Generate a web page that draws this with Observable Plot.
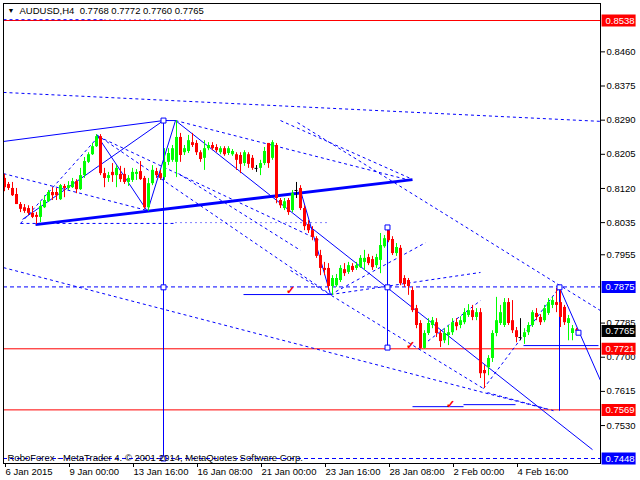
<!DOCTYPE html>
<html><head><meta charset="utf-8">
<script src="https://cdn.jsdelivr.net/npm/d3@7"></script>
<script src="https://cdn.jsdelivr.net/npm/@observablehq/plot@0.6"></script>
<style>
html,body{margin:0;padding:0;background:#fff;}
#chart svg{display:block;}
</style></head><body><div id="chart"></div>
<script>
// ---- Candle data (AUDUSD H4), bar index 0 = 6 Jan 2015 08:00 ----
const opens = [
.8145,.8130,.8120,.8105,.8080,.8072,.8070,.8058,.8053,.8048,
.8072,.8087,.8110,.8110,.8092,.8125,.8120,.8122,.8137,.8117,
.8152,.8185,.8204,.8224,.8249,.8157,.8145,.8160,.8152,.8155,
.8155,.8135,.8140,.8155,.8162,.8145,.8072,.8132,.8162,.8157,
.8147,.8185,.8190,.8185,.8247,.8209,.8212,.8234,.8232,.8209,
.8195,.8219,.8227,.8222,.8209,.8219,.8207,.8204,.8204,.8202,
.8182,.8204,.8195,.8170,.8170,.8182,.8232,.8195,.8227,.8090,
.8070,.8090,.8065,.8115,.8120,.8070,.8030,.8015,.7995,.7953,
.7921,.7921,.7876,.7878,.7891,.7918,.7911,.7926,.7921,.7923,
.7936,.7948,.7943,.7928,.7941,.7975,.8015,.7993,.7958,.7971,
.7896,.7891,.7866,.7821,.7784,.7722,.7759,.7779,.7786,.7759,
.7741,.7754,.7761,.7786,.7779,.7786,.7804,.7816,.7799,.7811,
.7667,.7674,.7697,.7759,.7784,.7779,.7836,.7791,.7766,.7749,
.7749,.7761,.7779,.7809,.7799,.7791,.7809,.7829,.7836,.7836,
.7824,.7784,.7759,.7768];
const highs = [
.8155,.8135,.8135,.8120,.8085,.8080,.8077,.8075,.8060,.8087,
.8102,.8115,.8122,.8120,.8130,.8130,.8137,.8145,.8142,.8170,
.8197,.8209,.8232,.8254,.8254,.8170,.8160,.8182,.8177,.8175,
.8170,.8152,.8170,.8167,.8187,.8150,.8145,.8177,.8170,.8165,
.8219,.8219,.8227,.8289,.8257,.8227,.8252,.8257,.8239,.8214,
.8239,.8234,.8234,.8229,.8224,.8224,.8224,.8217,.8209,.8209,
.8214,.8209,.8202,.8177,.8190,.8222,.8232,.8239,.8232,.8095,
.8095,.8095,.8115,.8135,.8127,.8077,.8040,.8025,.8000,.7966,
.7936,.7933,.7903,.7906,.7928,.7933,.7936,.7933,.7936,.7953,
.7966,.7956,.7951,.7956,.8008,.8003,.8023,.8000,.7983,.7978,
.7903,.7896,.7874,.7829,.7791,.7766,.7796,.7799,.7796,.7766,
.7771,.7779,.7796,.7796,.7801,.7821,.7831,.7829,.7821,.7821,
.7679,.7704,.7766,.7849,.7829,.7846,.7846,.7841,.7774,.7796,
.7771,.7786,.7816,.7821,.7806,.7829,.7846,.7849,.7871,.7874,
.7829,.7804,.7779,.7772];
const lows = [
.8112,.8115,.8100,.8080,.8060,.8058,.8053,.8045,.8030,.8035,
.8070,.8085,.8090,.8090,.8090,.8097,.8115,.8120,.8107,.8115,
.8145,.8182,.8202,.8222,.8152,.8122,.8135,.8135,.8122,.8135,
.8130,.8125,.8135,.8140,.8140,.8068,.8063,.8127,.8145,.8140,
.8140,.8177,.8185,.8147,.8185,.8202,.8207,.8222,.8202,.8185,
.8165,.8214,.8214,.8209,.8204,.8200,.8202,.8200,.8165,.8157,
.8175,.8170,.8165,.8160,.8152,.8177,.8170,.8190,.8082,.8070,
.8065,.8053,.8060,.8095,.8065,.8015,.8008,.7990,.7946,.7903,
.7903,.7866,.7854,.7874,.7886,.7901,.7906,.7911,.7916,.7921,
.7916,.7928,.7916,.7921,.7908,.7971,.7985,.7953,.7951,.7878,
.7874,.7854,.7811,.7771,.7720,.7720,.7754,.7771,.7749,.7724,
.7734,.7729,.7754,.7766,.7771,.7781,.7799,.7791,.7791,.7647,
.7622,.7654,.7687,.7751,.7779,.7774,.7779,.7759,.7736,.7741,
.7732,.7754,.7774,.7791,.7779,.7786,.7804,.7821,.7811,.7774,
.7779,.7741,.7741,.7760];
const closes = [
.8122,.8120,.8102,.8080,.8068,.8063,.8058,.8048,.8048,.8075,
.8090,.8110,.8102,.8102,.8127,.8120,.8127,.8137,.8117,.8152,
.8187,.8204,.8224,.8249,.8157,.8145,.8152,.8152,.8170,.8142,
.8135,.8145,.8160,.8160,.8142,.8072,.8132,.8165,.8152,.8145,
.8185,.8207,.8219,.8247,.8202,.8219,.8239,.8227,.8209,.8192,
.8219,.8227,.8219,.8214,.8219,.8204,.8219,.8212,.8190,.8180,
.8209,.8180,.8170,.8170,.8182,.8212,.8182,.8234,.8095,.8077,
.8087,.8060,.8107,.8115,.8070,.8025,.8015,.7998,.7951,.7921,
.7916,.7876,.7896,.7896,.7921,.7908,.7928,.7916,.7928,.7946,
.7946,.7933,.7923,.7948,.7978,.7995,.7990,.7958,.7973,.7883,
.7881,.7876,.7816,.7779,.7722,.7759,.7784,.7791,.7759,.7739,
.7759,.7761,.7786,.7776,.7791,.7811,.7816,.7799,.7811,.7659,
.7659,.7697,.7759,.7791,.7811,.7836,.7784,.7766,.7749,.7749,
.7761,.7779,.7811,.7799,.7786,.7821,.7836,.7841,.7829,.7799,
.7786,.7796,.7771,.7765];

// ---- Axis ticks and labels ----
const timeTickBars = [0,16,32,48,64,80,96,112,128];
const timeTickLabels = ["6 Jan 2015","9 Jan 00:00","13 Jan 16:00","16 Jan 08:00","21 Jan 00:00","23 Jan 16:00","28 Jan 08:00","2 Feb 00:00","4 Feb 16:00"];
const priceTicks = [0.8460,0.8375,0.8290,0.8205,0.8120,0.8035,0.7955,0.7785,0.7700,0.7615,0.7530];
const markedLevels = [0.8538,0.7875,0.7765,0.7721,0.7569,0.7448];
const markedColors = ["#ff0000","#0000ff","#000000","#ff0000","#ff0000","#0000ff"];
const redLevels = [0.8538,0.7721,0.7569];
const dashedLevels = [0.7875,0.7448];

// ---- Analysis drawings: [bar1, price1, bar2, price2] ----
const solidLines = [
  [-0.25,0.8237,39.75,0.8289],
  [4.5,0.8043,39.75,0.8289],
  [23,0.8254,35.75,0.8063],
  [35.75,0.8063,42.75,0.8289],
  [39.75,0.8289,42.75,0.8289],
  [42.75,0.8289,147,0.7470],
  [39.75,0.8289,39.75,0.7443],
  [74,0.8115,81.5,0.7856],
  [59.75,0.7856,81.5,0.7856],
  [95.75,0.8023,95.75,0.7724],
  [138.75,0.7874,138.75,0.7567],
  [138.75,0.7874,149,0.7642],
  [129.75,0.7729,148.5,0.7729],
  [102,0.7577,114.75,0.7577],
  [114.75,0.7582,127.75,0.7582]
];
const thickLines = [[7.75,0.8030,102,0.8142]];
const dashedLines = [
  [-0.25,0.8359,149,0.8287],
  [-0.25,0.8540,25,0.8540],
  [-0.25,0.7923,135.25,0.7572],
  [73.25,0.8284,149,0.7816],
  [42.75,0.8289,101.5,0.8140],
  [69,0.8289,101.5,0.8145],
  [23,0.8254,81.5,0.7856],
  [4,0.8033,42.75,0.8033],
  [4,0.8033,23.5,0.8249],
  [-0.25,0.8157,35.75,0.8065],
  [23.5,0.8249,79,0.7990],
  [43.5,0.8157,74,0.7966],
  [71.5,0.7916,119.75,0.7622],
  [81.5,0.7856,119,0.7911],
  [81.5,0.7856,105.25,0.7985],
  [103.5,0.7722,119,0.7841],
  [119.75,0.7622,138.75,0.7874],
  [120.75,0.7612,137.25,0.7567]
];
const dottedLines = [
  [25,0.8540,49,0.8540],
  [42.75,0.8035,81.5,0.8035]
];
const squares = [[39.75,0.8289],[39.75,0.7874],[39.75,0.7448],[95.75,0.8023],[95.75,0.7874],[95.75,0.7724],[138.75,0.7874],[143.5,0.7761]];
const checks = [[71.5,0.7866],[101.5,0.7729],[111.5,0.7582]];

const titleText = "AUDUSD,H4  0.7768 0.7772 0.7760 0.7765";
const footerText = "RoboForex - MetaTrader 4. © 2001-2014, MetaQuotes Software Corp.";

// ---- build ----
const bars = opens.map((o,i)=>({i, o, h: highs[i], l: lows[i], c: closes[i]}));
const col = d => d.c > d.o ? "#00ff00" : d.c < d.o ? "#ff0000" : "#000000";
const bodies = bars.filter(d => d.c !== d.o);
const dojis = bars.filter(d => d.c === d.o);
const marks = markedLevels.map((v,k)=>({v, bg: markedColors[k]}));
const font = "Liberation Sans, Arial, sans-serif";
const xMax = 149;
const segOpts = (extra) => Object.assign({x1: d=>d[0], y1: d=>d[1], x2: d=>d[2], y2: d=>d[3], stroke: "#0000ff"}, extra);

const chart = Plot.plot({
  width: 640, height: 480,
  marginTop: 3, marginBottom: 17, marginLeft: 3, marginRight: 40,
  style: {fontFamily: font, fontSize: "9.5px", color: "#000", background: "#fff"},
  x: {type: "linear", domain: [-0.25, xMax], axis: null, label: null},
  y: {type: "linear", domain: [0.743556, 0.858031], axis: null, label: null},
  marks: [
    Plot.ruleY(redLevels, {stroke: "#ff0000"}),
    Plot.ruleY(dashedLevels, {stroke: "#0000ff", strokeDasharray: "4,3"}),
    Plot.link(dashedLines, segOpts({strokeDasharray: "3,3"})),
    Plot.link(dottedLines, segOpts({strokeDasharray: "1,4"})),
    Plot.link(solidLines, segOpts({})),
    Plot.link(thickLines, segOpts({strokeWidth: 3})),
    Plot.ruleX(bars, {x: "i", y1: "l", y2: "h", stroke: col}),
    Plot.ruleX(bodies, {x: "i", y1: "o", y2: "c", stroke: col, strokeWidth: 3}),
    Plot.ruleY(dojis, {y: "c", x1: d=>d.i-0.375, x2: d=>d.i+0.375, stroke: "#000"}),
    Plot.dot(squares, {x: d=>d[0], y: d=>d[1], symbol: "square", r: 2.8, stroke: "#0000ff", fill: "#fff", strokeWidth: 1}),
    Plot.text(checks, {x: d=>d[0], y: d=>d[1], text: ()=>"✓", fill: "#ff0000", fontSize: 11, fontWeight: "bold"}),
    Plot.frame({stroke: "#000"}),
    Plot.axisY(priceTicks, {anchor: "right", label: null, tickSize: 4, tickPadding: 2, tickFormat: d=>d.toFixed(4), fontSize: 9.5, fill: "#000"}),
    Plot.axisX(timeTickBars, {anchor: "bottom", label: null, tickSize: 4, tickPadding: 1, tickFormat: (d,k)=>timeTickLabels[k], textAnchor: "start", dx: 1, fontSize: 9.5, fill: "#000"}),
    Plot.ruleY(marks, {y: "v", x1: xMax+0.4, x2: xMax+8.9, stroke: "bg", strokeWidth: 12}),
    Plot.text(marks, {y: "v", text: d=>d.v.toFixed(4), frameAnchor: "right", textAnchor: "start", dx: 5, fill: "#fff", fontSize: 9.5}),
    Plot.text([titleText], {frameAnchor: "top-left", dx: 16, dy: 4, lineAnchor: "top", textAnchor: "start", fontSize: 9.5, fill: "#000"}),
    Plot.text(["▼"], {frameAnchor: "top-left", dx: 4, dy: 5, lineAnchor: "top", textAnchor: "start", fontSize: 7, fill: "#000"}),
    Plot.text([footerText], {frameAnchor: "bottom-left", dx: 4, dy: -3, lineAnchor: "bottom", textAnchor: "start", fontSize: 9.5, fill: "#000"})
  ]
});
document.getElementById("chart").appendChild(chart);
</script>
</body></html>
